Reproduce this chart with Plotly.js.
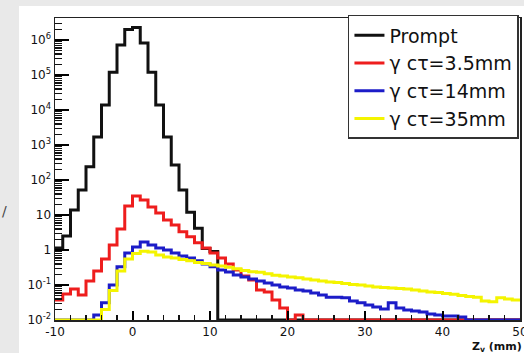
<!DOCTYPE html>
<html><head><meta charset="utf-8">
<script src="https://cdn.plot.ly/plotly-3.0.1.min.js"></script>
<style>
html,body{margin:0;padding:0;background:#e9e9e9;}
#panel{position:absolute;left:19px;top:6px;width:505px;height:347px;background:#ffffff;}
#chart{position:absolute;left:0;top:0;width:524px;height:353px;}
</style>
</head><body><div id="panel"></div><div id="chart"></div>
<script>
// bin edges of the Z_v histograms (mm)
const zEdges = [-10,-9,-8,-7,-6,-5,-4,-3,-2,-1,0,1,2,3,4,5,6,7,8,9,10,11,12,13,14,15,16,17,18,19,20,
  21,22,23,24,25,26,27,28,29,30,31,32,33,34,35,36,37,38,39,40,41,42,43,44,45,46,47,48,49,50];

const seriesNames = ['Prompt', 'γ cτ=3.5mm', 'γ cτ=14mm', 'γ cτ=35mm'];

// bin contents, bins -10..49
const prompt = [1.15,2.5,14,52,240,1700,14000,120000,720000,2.0e6,
  2.3e6,820000,120000,14000,1700,270,52,12,4.2,1.1,
  0.9,0,0,0,0,0,0,0,0,0,
  0,0,0,0,0,0,0,0,0,0,
  0,0,0,0,0,0,0,0,0,0,
  0,0,0,0,0,0,0,0,0,0];
const ct3p5 = [0.037,0.055,0.077,0.052,0.13,0.25,0.55,1.4,4.0,18,
  35,27,17,11.5,7.2,5.2,3.3,2.4,1.6,1.15,
  0.82,0.59,0.4,0.27,0.18,0.14,0.072,0.063,0.037,0.022,
  0,0.014,0,0,0,0,0,0,0,0,
  0,0,0,0,0,0,0,0,0,0,
  0,0,0,0,0,0,0,0,0,0];
const ct14 = [0,0,0,0,0,0.014,0.031,0.1,0.33,0.82,
  1.22,1.69,1.39,1.14,1.0,0.82,0.67,0.59,0.49,0.40,
  0.33,0.27,0.235,0.193,0.17,0.148,0.13,0.114,0.1,0.088,
  0.082,0.072,0.067,0.059,0.052,0.045,0.045,0.043,0.035,0.031,
  0.027,0.0235,0.0206,0.031,0.022,0.0193,0.018,0.017,0.0148,0.0139,
  0.013,0.013,0.0122,0,0,0,0,0,0,0];
const ct35 = [0,0,0,0,0,0,0.02,0.07,0.25,0.55,
  0.8,0.92,0.88,0.72,0.63,0.59,0.54,0.49,0.44,0.41,
  0.37,0.35,0.32,0.29,0.26,0.24,0.23,0.21,0.19,0.18,
  0.17,0.16,0.148,0.139,0.13,0.122,0.118,0.11,0.103,0.1,
  0.094,0.088,0.085,0.082,0.079,0.077,0.072,0.067,0.063,0.061,
  0.057,0.054,0.05,0.047,0.045,0.035,0.033,0.043,0.04,0.037];

const yTickVals = [0.01,0.1,1,10,100,1000,10000,100000,1000000];
const yTickText = ['10<sup>-2</sup>','10<sup>-1</sup>','1','10','10<sup>2</sup>','10<sup>3</sup>','10<sup>4</sup>','10<sup>5</sup>','10<sup>6</sup>'];
const xTickVals = [-10,0,10,20,30,40,50];
const xTickText = ['-10','0','10','20','30','40','50'];
const xTitle = 'Z<sub>v</sub> (mm)';

const yMin = 0.01;           // bottom of the log axis; empty bins are drawn there (ROOT style)
const colors = ['#111111', '#ee1d1d', '#1c1cc8', '#f4f400'];

// minor tick positions (axis decoration): 2..9 in every decade
const yMinor = [];
for (let e = -2; e <= 6; e++) for (let m = 2; m <= 9; m++) yMinor.push(m * Math.pow(10, e));

function stepTrace(vals, name, color) {
  const y = vals.map(v => v > 0 ? v : yMin);
  y.push(y[y.length - 1]);
  return {
    type: 'scatter', mode: 'lines', name: name,
    x: zEdges, y: y,
    line: {shape: 'hv', color: color, width: 3},
    hoverinfo: 'skip'
  };
}

const data = [
  stepTrace(prompt, seriesNames[0], colors[0]),
  stepTrace(ct3p5, seriesNames[1], colors[1]),
  stepTrace(ct14, seriesNames[2], colors[2]),
  stepTrace(ct35, seriesNames[3], colors[3])
];

const tickFont = {family: 'DejaVu Sans', size: 12, color: '#111'};
const clear = 'rgba(255,255,255,0)';

const layout = {
  width: 524, height: 353,
  margin: {l: 55, r: 4, t: 18, b: 33},
  paper_bgcolor: 'rgba(0,0,0,0)',
  plot_bgcolor: '#ffffff',
  showlegend: true,
  xaxis: {
    range: [-10, 50], gridcolor: clear, zerolinecolor: clear,
    tickmode: 'array', tickvals: xTickVals, ticktext: xTickText,
    ticks: 'inside', ticklen: 9, tickwidth: 2, tickcolor: '#000',
    minor: {ticks: 'inside', ticklen: 5, dtick: 2, tickcolor: '#111', tickwidth: 1.5, gridcolor: clear},
    showline: true, linecolor: '#222', linewidth: 1.5, mirror: true,
    tickfont: tickFont, ticklabeloverflow: 'allow'
  },
  yaxis: {
    type: 'log', range: [-2, 6.63], gridcolor: clear, zerolinecolor: clear,
    tickmode: 'array', tickvals: yTickVals, ticktext: yTickText,
    ticks: 'inside', ticklen: 14, tickwidth: 2, tickcolor: '#000',
    minor: {tickmode: 'array', tickvals: yMinor, ticks: 'inside', ticklen: 7, tickcolor: '#111', tickwidth: 1.5, gridcolor: clear},
    showline: true, linecolor: '#222', linewidth: 1.5, mirror: true,
    tickfont: tickFont
  },
  legend: {
    x: 0.63, y: 1.01, xanchor: 'left', yanchor: 'top',
    bgcolor: '#ffffff', bordercolor: '#333', borderwidth: 1.5,
    font: {family: 'DejaVu Sans', size: 19, color: '#111'}
  },
  annotations: [
    {text: xTitle, xref: 'paper', yref: 'paper', x: 1.0086, y: 0, xanchor: 'right', yanchor: 'top',
     yshift: -18, showarrow: false, font: {family: 'DejaVu Sans', size: 11, color: '#111', weight: 'bold'}},
    {text: '/', xref: 'paper', yref: 'paper', x: -0.108, y: 0.36, xanchor: 'center', yanchor: 'middle',
     showarrow: false, font: {family: 'DejaVu Sans', size: 14, color: '#444'}}
  ]
};

Plotly.newPlot('chart', data, layout, {staticPlot: true, displayModeBar: false});
</script>
</body></html>
